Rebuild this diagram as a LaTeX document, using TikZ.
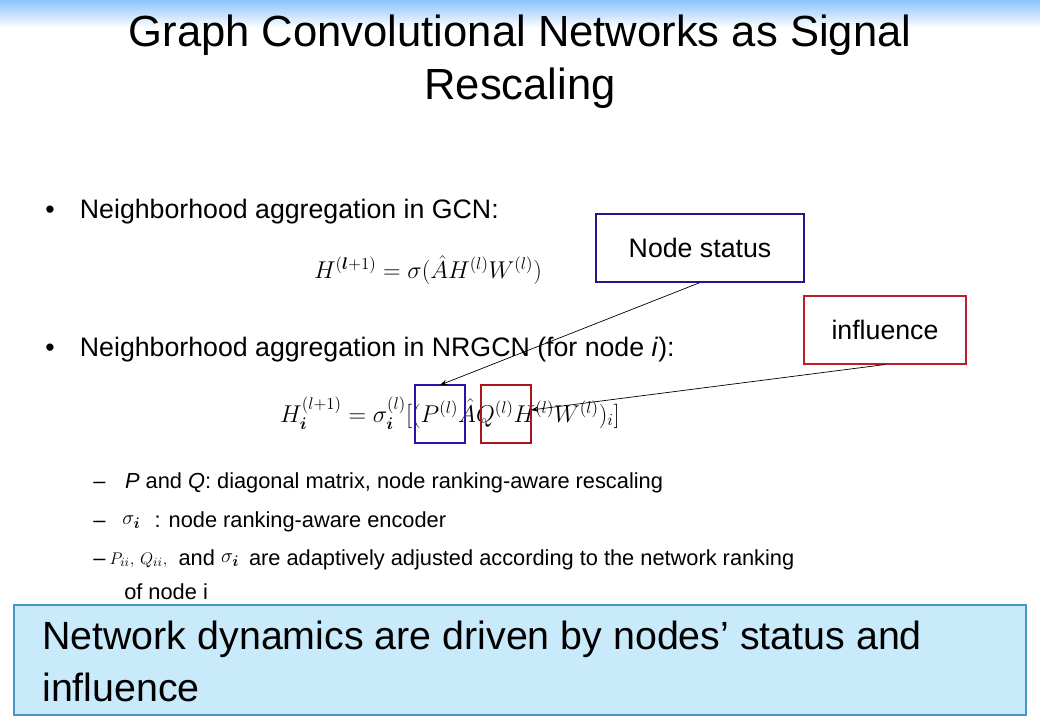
\documentclass[tikz,border=0pt]{standalone}
\usepackage{fontspec}
\setmainfont{Liberation Sans}
\usepackage{amsmath}
\usetikzlibrary{arrows.meta}
\definecolor{pblue}{RGB}{40,20,170}
\definecolor{qred}{RGB}{170,20,30}
\definecolor{nsc}{RGB}{40,20,140}
\definecolor{infc}{RGB}{190,30,40}
\definecolor{topb}{RGB}{140,195,250}
\definecolor{boxd}{RGB}{70,150,200}
\definecolor{boxf}{RGB}{200,234,250}
\begin{document}
\begin{tikzpicture}[x=0.025cm,y=-0.025cm,
 txt/.style={anchor=west,inner sep=0,font=\fontsize{19}{22}\selectfont},
 sub/.style={anchor=west,inner sep=0,font=\fontsize{15.5}{18}\selectfont},
 lbl/.style={draw=#1,line width=0.8pt,inner sep=0,font=\fontsize{19}{22}\selectfont},
 arr/.style={-{Stealth[length=5pt]},line width=0.5pt}]
\useasboundingbox (0,0) rectangle (1040,720);
\fill[white] (0,0) rectangle (1040,720);
\shade[top color=topb,bottom color=white] (0,0) rectangle (1040,28);
\node[align=center,font=\fontsize{31}{38}\selectfont] (title) at (520,62) {Graph Convolutional Networks as Signal\\Rescaling};
\node[txt] (b1) at (45,212) {\textbullet\hspace{18pt}Neighborhood aggregation in GCN:};
\node[anchor=center,font=\fontsize{17}{20}\selectfont] (e1) at (428,270) {$H^{(\boldsymbol{l}+1)}=\sigma(\hat{A}H^{(l)}W^{(l)})$};
\node[txt] (b2) at (45,350) {\textbullet\hspace{18pt}Neighborhood aggregation in NRGCN (for node \textit{i}):};
\node[anchor=center,font=\fontsize{17}{20}\selectfont] (e2) at (450,413) {$H_{\boldsymbol{i}}^{(l+1)}=\sigma_{\boldsymbol{i}}^{(l)}[(P^{(l)}\hat{A}Q^{(l)}H^{(l)}W^{(l)})_{i}]$};
\draw[pblue,line width=1.6pt] (415,385) rectangle (465,443);
\draw[qred,line width=1.6pt] (481,385) rectangle (531,443);
\coordinate (pt) at (440,385);
\coordinate (qt) at (531,410);
\node[lbl=nsc,minimum width=208*0.025cm,minimum height=68*0.025cm] (ns) at (700,248) {Node status};
\node[lbl=infc,minimum width=162*0.025cm,minimum height=68*0.025cm] (inf) at (885,330) {influence};
\draw[arr] (ns.south) -- (pt);
\draw[arr] (inf.south) -- (qt);
\node[sub] (s1) at (93,483) {–\hspace{14pt}\textit{P} and \textit{Q}: diagonal matrix, node ranking-aware rescaling};
\node[sub] (s2) at (93,522) {–\hspace{12pt}\raisebox{2pt}{$\sigma_{\boldsymbol{i}}$}\hspace{10pt}: node ranking-aware encoder};
\node[sub] (s3) at (93,560) {–\hspace{3pt}\raisebox{1pt}{\fontsize{13}{15}\selectfont$P_{ii},\,Q_{ii},$}\hspace{8pt}and \raisebox{2pt}{$\sigma_{\boldsymbol{i}}$}\hspace{7pt}are adaptively adjusted according to the network ranking};
\node[sub] (s4) at (124,592) {of node i};
\node[draw=boxd,fill=boxf,line width=1pt,minimum width=1012*0.025cm,minimum height=110*0.025cm,inner sep=0] (box) at (520,660) {};
\node[anchor=west,align=left,inner sep=0,font=\fontsize{28}{37}\selectfont] (bt) at (42,661) {Network dynamics are driven by nodes’ status and\\influence};
\end{tikzpicture}
\end{document}
